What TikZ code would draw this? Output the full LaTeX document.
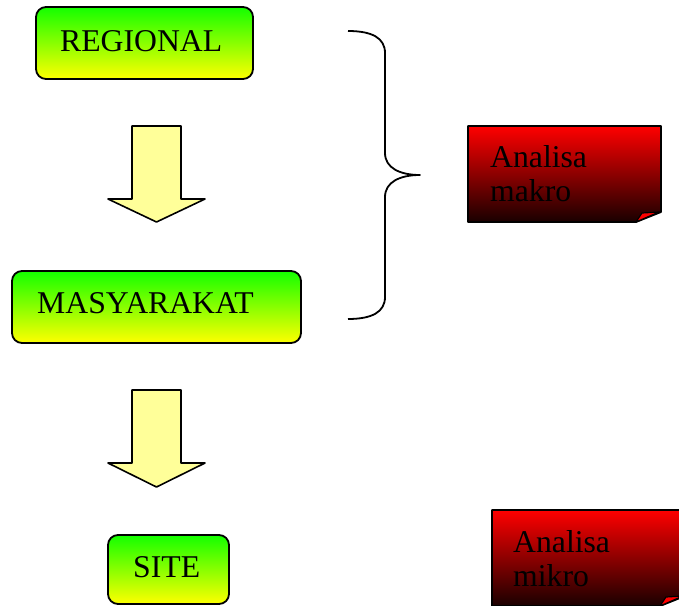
\documentclass[tikz,border=0pt]{standalone}
\usepackage{fontspec}
\setmainfont{Liberation Serif}
\definecolor{grn}{RGB}{20,255,0}
\definecolor{yel}{RGB}{255,255,0}
\definecolor{lyel}{RGB}{255,255,153}
\definecolor{dred}{RGB}{25,0,0}
\begin{document}
\begin{tikzpicture}[x=1pt,y=-1pt,line join=round,
  gbox/.style={draw=black,line width=1.8pt,rounded corners=10pt,top color=grn,bottom color=yel,inner sep=0pt},
  lbl/.style={font=\fontsize{31.7}{36}\selectfont,inner sep=0pt,anchor=base west},
  barrow/.style={draw=black,line width=1.6pt,fill=lyel},
  redbox/.style={draw=black,line width=1.8pt,top color=red,bottom color=dred},
  foldtri/.style={draw=black,line width=1.2pt,fill=red},
  bracestyle/.style={draw=black,line width=1.8pt}]
\useasboundingbox (0,0) rectangle (679,605);
\clip (0,0) rectangle (679,605);
% green boxes
\node[gbox,minimum width=217pt,minimum height=72pt] (reg) at (144.5,43) {};
\node[lbl] (regt) at (60,51) {REGIONAL};
\node[gbox,minimum width=289pt,minimum height=72pt] (mas) at (156.5,307) {};
\node[lbl] (mast) at (37,313) {MASYARAKAT};
\node[gbox,minimum width=121pt,minimum height=69pt] (site) at (168.5,569.5) {};
\node[lbl] (sitet) at (133,577) {SITE};
% block arrows
\path[barrow] (132,126) -- (181,126) -- (181,199) -- (205,199) -- (156.5,222) -- (108,199) -- (132,199) -- cycle;
\path[barrow] (132,390) -- (181,390) -- (181,463) -- (205,463) -- (156.5,487) -- (108,463) -- (132,463) -- cycle;
% brace
\path[bracestyle] (348,31) .. controls (372,31) and (385,38) .. (385,53) -- (385,153)
  .. controls (385,168) and (400,175) .. (420,175)
  .. controls (400,175) and (385,182) .. (385,197) -- (385,297)
  .. controls (385,312) and (372,319) .. (348,319);
% red notes
\path[redbox] (468,126) -- (661,126) -- (661,212) -- (636,222) -- (468,222) -- cycle;
\path[foldtri] (636,222) -- (642,213) -- (659,212) -- cycle;
\node[lbl] (mak1) at (490,167) {Analisa};
\node[lbl] (mak2) at (490,201) {makro};
\path[redbox] (492,510) -- (685,510) -- (685,596) -- (660,606) -- (492,606) -- cycle;
\path[foldtri] (660,606) -- (666,597) -- (683,596) -- cycle;
\node[lbl] (mik1) at (513,552) {Analisa};
\node[lbl] (mik2) at (513,586) {mikro};
\end{tikzpicture}
\end{document}
